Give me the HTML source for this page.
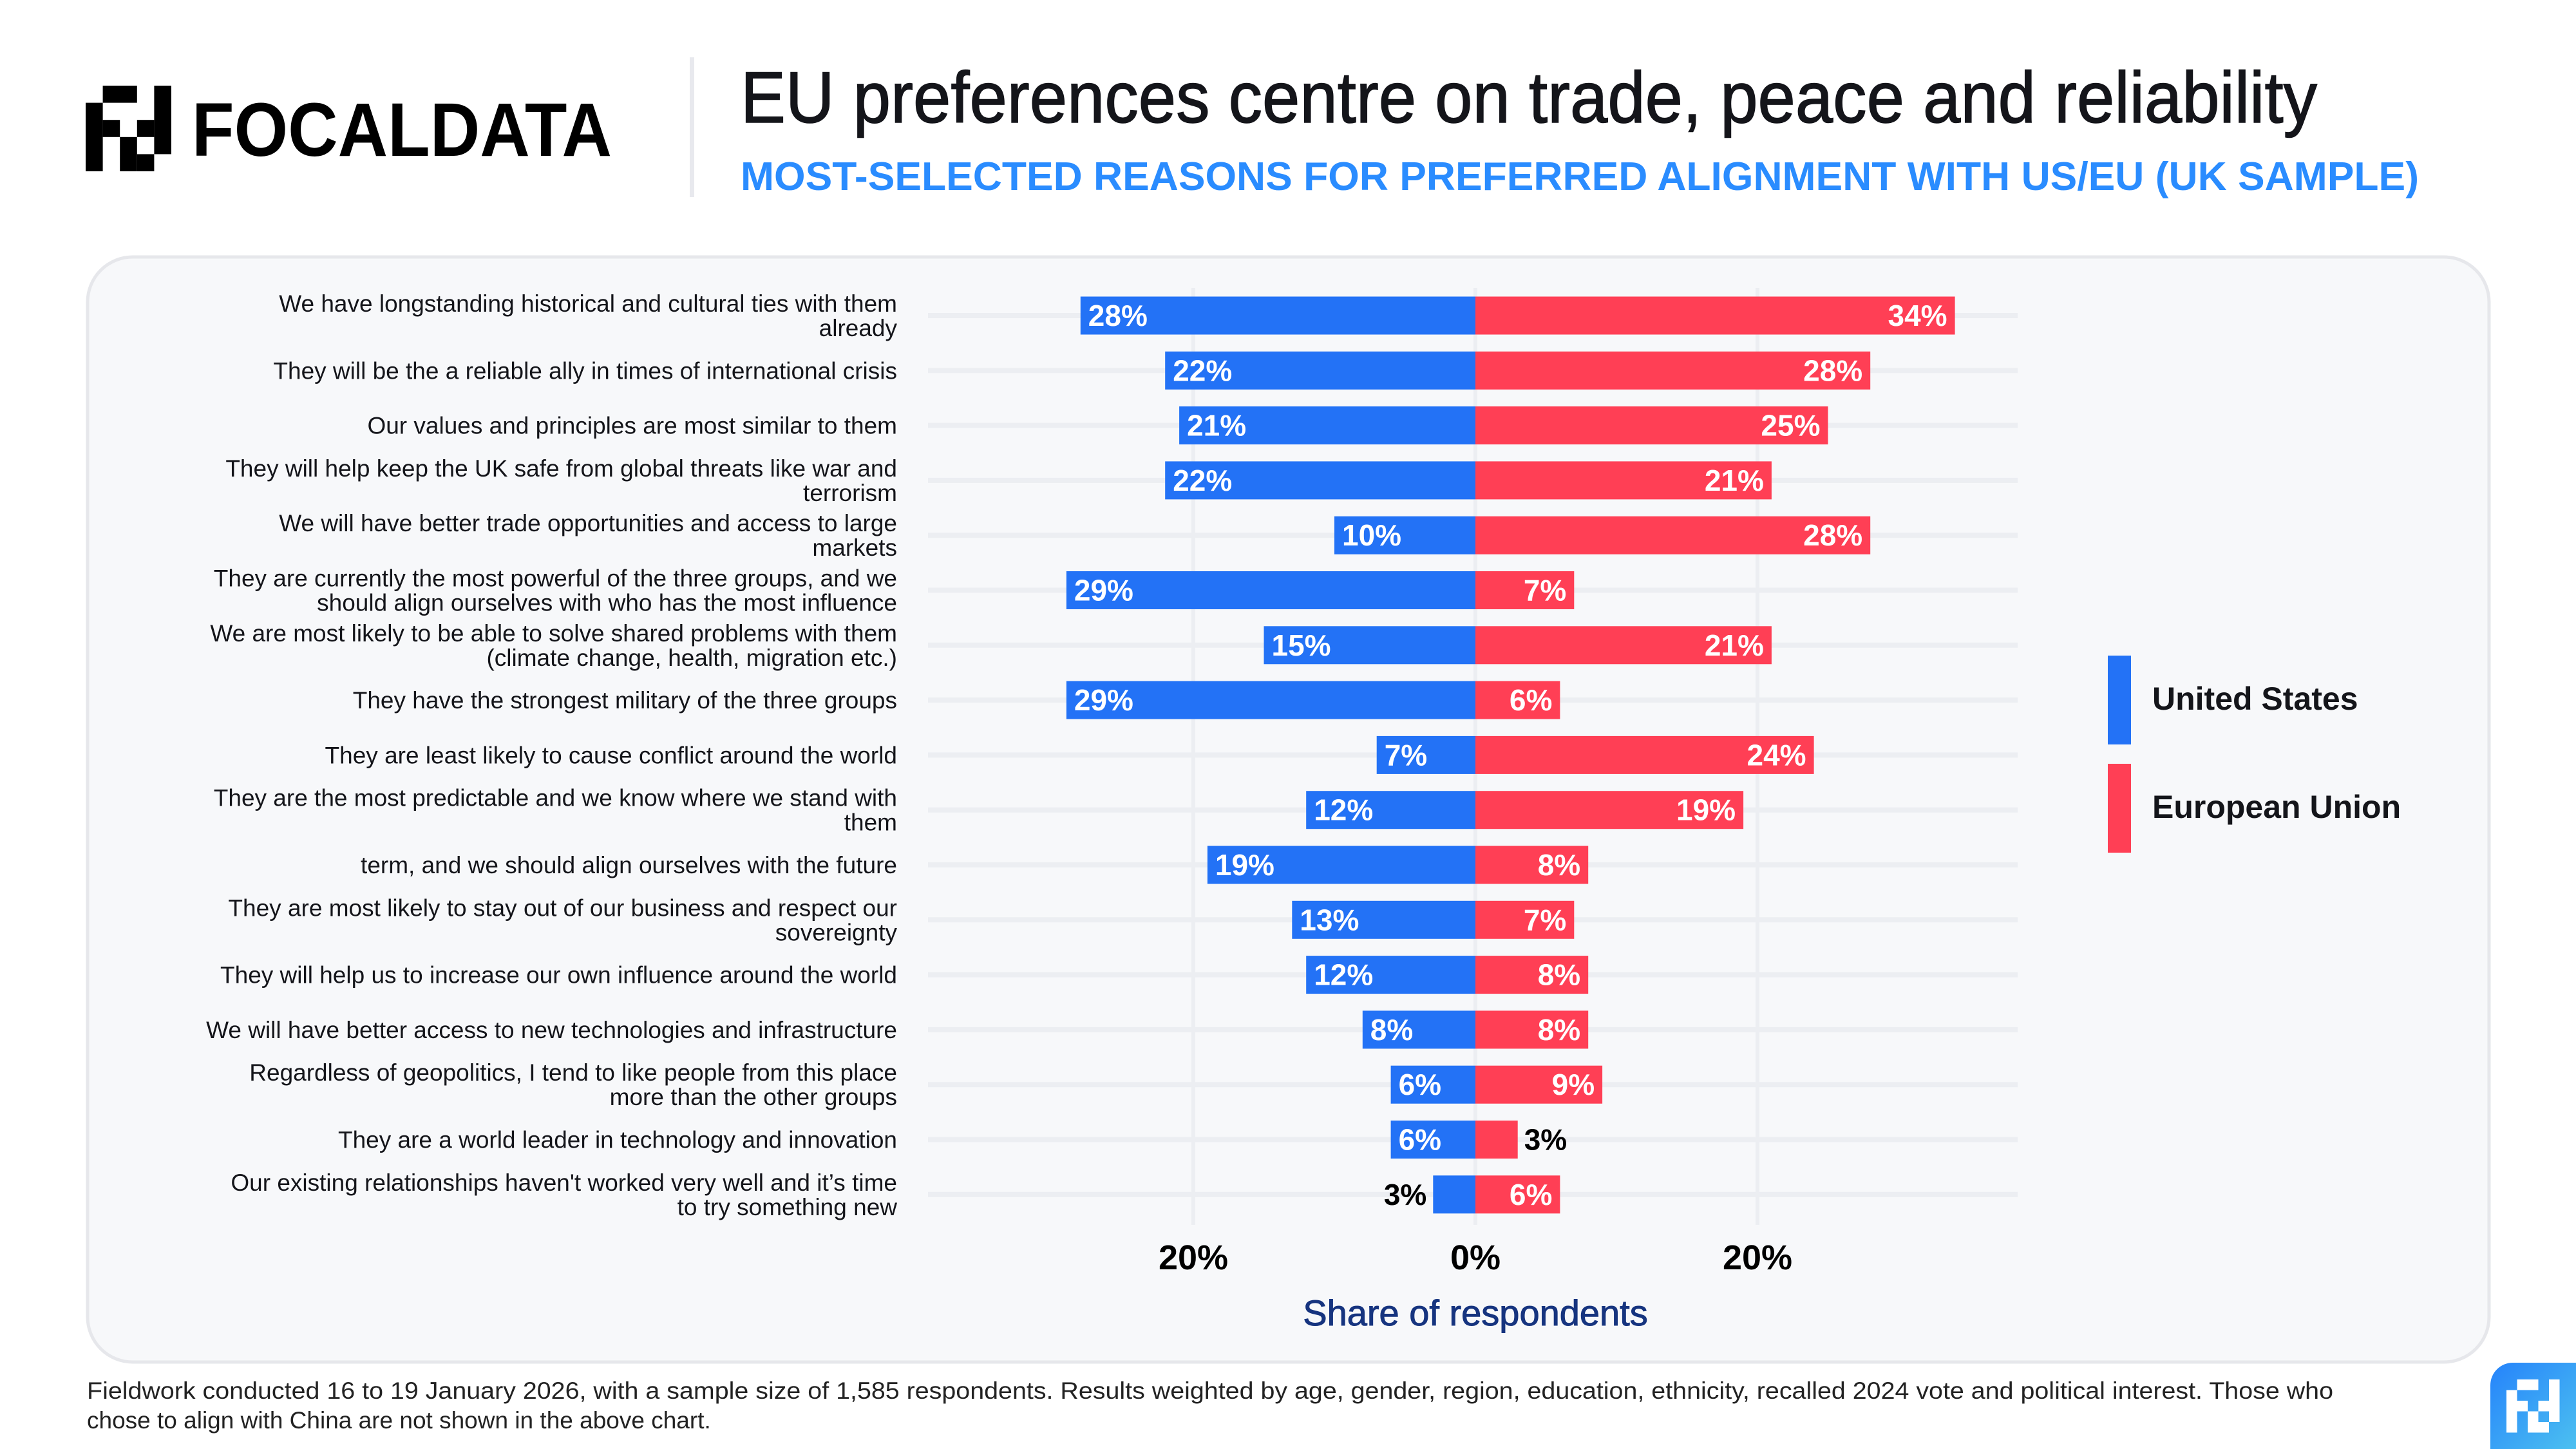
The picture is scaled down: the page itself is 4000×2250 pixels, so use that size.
<!DOCTYPE html>
<html><head><meta charset="utf-8">
<style>
html,body{margin:0;padding:0;background:#fff;}
body{width:4000px;height:2250px;position:relative;overflow:hidden;font-family:"Liberation Sans",sans-serif;}
</style></head>
<body>
<svg width="4000" height="2250" viewBox="0 0 4000 2250" xmlns="http://www.w3.org/2000/svg" style="position:absolute;left:0;top:0" font-family="Liberation Sans, sans-serif">
  <defs>
    <linearGradient id="gicon" x1="0" y1="0" x2="1" y2="1">
      <stop offset="0" stop-color="#2583fb"/><stop offset="1" stop-color="#4cc0f0"/>
    </linearGradient>
  </defs>
  <!-- logo -->
  <g>
    <g fill="#000" transform="translate(133,133) scale(26.6)">
      <rect x="1" y="0" width="2" height="1"/>
      <rect x="4" y="0" width="1" height="4"/>
      <rect x="0" y="1" width="1" height="4"/>
      <rect x="1" y="2" width="1" height="1"/>
      <rect x="3" y="2" width="1" height="1"/>
      <rect x="2" y="3" width="1" height="2"/>
      <rect x="3" y="4" width="1" height="1"/>
    </g>
    <text x="298" y="242" font-size="118" font-weight="bold" fill="#000" textLength="652" lengthAdjust="spacingAndGlyphs">FOCALDATA</text>
  </g>
  <rect x="1071" y="89" width="7" height="217" fill="#e8e9ee"/>
  <text x="1150" y="190" font-size="112" fill="#14151a" stroke="#14151a" stroke-width="1.5" textLength="2448" lengthAdjust="spacingAndGlyphs">EU preferences centre on trade, peace and reliability</text>
  <text x="1150" y="295" font-size="62" font-weight="bold" fill="#2a8cff" textLength="2606" lengthAdjust="spacingAndGlyphs">MOST-SELECTED REASONS FOR PREFERRED ALIGNMENT WITH US/EU (UK SAMPLE)</text>

  <rect x="136" y="399" width="3729" height="1716" rx="70" fill="#f7f8fa" stroke="#e6e7eb" stroke-width="5"/>

  <g id="chart"></g>

  <!-- legend -->
  <g>
    <g>
      <rect x="3273" y="1018" width="36" height="138" fill="#2372f6"/>
      <text x="3342" y="1102" font-size="50" font-weight="bold" fill="#14151a">United States</text>
    </g>
    <g>
      <rect x="3273" y="1186" width="36" height="138" fill="#ff3f55"/>
      <text x="3342" y="1270" font-size="50" font-weight="bold" fill="#14151a">European Union</text>
    </g>
  </g>

  <g font-size="37" fill="#222">
    <text x="135" y="2172" textLength="3488" lengthAdjust="spacingAndGlyphs">Fieldwork conducted 16 to 19 January 2026, with a sample size of 1,585 respondents. Results weighted by age, gender, region, education, ethnicity, recalled 2024 vote and political interest. Those who</text>
    <text x="135" y="2218">chose to align with China are not shown in the above chart.</text>
  </g>

  <g>
    <path d="M3867 2250 V2151 a35 35 0 0 1 35 -35 H4000 V2250 Z" fill="url(#gicon)"/>
    <g fill="#fff" transform="translate(3892,2142) scale(16.5)">
      <rect x="1" y="0" width="2" height="1"/>
      <rect x="4" y="0" width="1" height="4"/>
      <rect x="0" y="1" width="1" height="4"/>
      <rect x="1" y="2" width="1" height="1"/>
      <rect x="3" y="2" width="1" height="1"/>
      <rect x="2" y="3" width="1" height="2"/>
      <rect x="3" y="4" width="1" height="1"/>
    </g>
  </g>
</svg>
<script>
const categories = [
  ["We have longstanding historical and cultural ties with them","already"],
  ["They will be the a reliable ally in times of international crisis"],
  ["Our values and principles are most similar to them"],
  ["They will help keep the UK safe from global threats like war and","terrorism"],
  ["We will have better trade opportunities and access to large","markets"],
  ["They are currently the most powerful of the three groups, and we","should align ourselves with who has the most influence"],
  ["We are most likely to be able to solve shared problems with them","(climate change, health, migration etc.)"],
  ["They have the strongest military of the three groups"],
  ["They are least likely to cause conflict around the world"],
  ["They are the most predictable and we know where we stand with","them"],
  ["term, and we should align ourselves with the future"],
  ["They are most likely to stay out of our business and respect our","sovereignty"],
  ["They will help us to increase our own influence around the world"],
  ["We will have better access to new technologies and infrastructure"],
  ["Regardless of geopolitics, I tend to like people from this place","more than the other groups"],
  ["They are a world leader in technology and innovation"],
  ["Our existing relationships haven't worked very well and it\u2019s time","to try something new"]
];
const usValues = [28,22,21,22,10,29,15,29,7,12,19,13,12,8,6,6,3];
const euValues = [34,28,25,21,28,7,21,6,24,19,8,7,8,8,9,3,6];
const tickValues = [-20,0,20];
const tickLabels = ["20%","0%","20%"];

const NS = "http://www.w3.org/2000/svg";
const g = document.getElementById('chart');
const X0 = 2291, PX = 21.9;
const xs = v => X0 + v * PX;
const ROW0 = 490, ROWH = 85.3;
const ys = i => ROW0 + i * ROWH;
const BARH = 59;
function mk(tag, attrs, text){
  const e = document.createElementNS(NS, tag);
  for (const k in attrs) e.setAttribute(k, attrs[k]);
  if (text !== undefined) e.textContent = text;
  g.appendChild(e);
  return e;
}
categories.forEach((c,i)=>{
  const s = mk('rect',{x:1441,y:ys(i)-4,width:1692,height:8,fill:'#eceef2'});
  
  
});
tickValues.forEach((t,k)=>{
  const l = mk('rect',{x:xs(t)-3,y:447,width:6,height:1455,fill:'#eceef2'});
  
  
  const tl = mk('text',{x:xs(t),y:1971,'font-size':54,'font-weight':'bold','text-anchor':'middle',fill:'#000'},tickLabels[k]);
  
  
});
const at = mk('text',{x:X0,y:2058,'font-size':56,'text-anchor':'middle',fill:'#16347f',stroke:'#16347f','stroke-width':1},'Share of respondents');



categories.forEach((lines,i)=>{
  const cy = ys(i);
  const n = lines.length;
  lines.forEach((ln,j)=>{
    const yy = cy + 13 + (j - (n-1)/2) * 38;
    const t = mk('text',{x:1393,y:yy,'font-size':37,'text-anchor':'end',fill:'#14151a'},ln);
    
    
  });
  const u = usValues[i], e = euValues[i];
  const ub = mk('rect',{x:xs(-u),y:cy-BARH/2,width:xs(0)-xs(-u),height:BARH,fill:'#2372f6'});
  
  
  const eb = mk('rect',{x:xs(0),y:cy-BARH/2,width:xs(e)-xs(0),height:BARH,fill:'#ff3f55'});
  
  
  let ul;
  if (u >= 5) ul = mk('text',{x:xs(-u)+12,y:cy+16,'font-size':46,'font-weight':'bold',fill:'#fff'},u+'%');
  else ul = mk('text',{x:xs(-u)-10,y:cy+16,'font-size':46,'font-weight':'bold','text-anchor':'end',fill:'#000'},u+'%');
  
  
  let el;
  if (e >= 5) el = mk('text',{x:xs(e)-12,y:cy+16,'font-size':46,'font-weight':'bold','text-anchor':'end',fill:'#fff'},e+'%');
  else el = mk('text',{x:xs(e)+10,y:cy+16,'font-size':46,'font-weight':'bold',fill:'#000'},e+'%');
  
  
});
</script>
</body></html>
